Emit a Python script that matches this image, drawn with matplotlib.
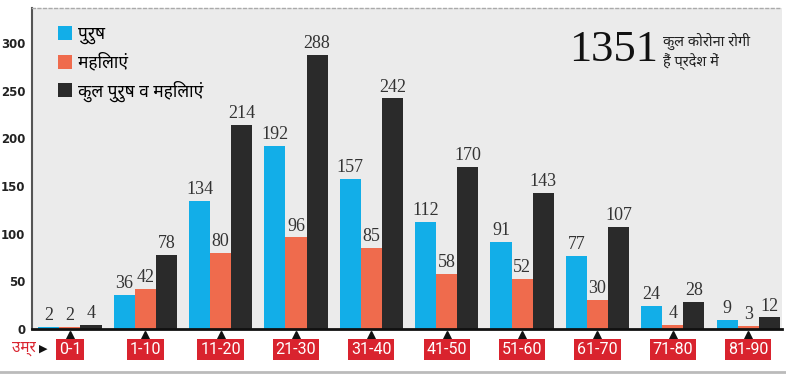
import matplotlib.pyplot as plt
from matplotlib.patches import Patch
import numpy as np

# age groups and counts
age_groups = ['0-1', '1-10', '11-20', '21-30', '31-40', '41-50', '51-60', '61-70', '71-80', '81-90']
men = [2, 36, 134, 192, 157, 112, 91, 77, 24, 9]
women = [2, 42, 80, 96, 85, 58, 52, 30, 4, 3]
total = [4, 78, 214, 288, 242, 170, 143, 107, 28, 12]
y_ticks = [0, 50, 100, 150, 200, 250, 300]

series_names = ['पुरुष', 'महिलाएं', 'कुल पुरुष व महिलाएं']
COLORS = ['#12aee8', '#ef6b4d', '#2a2a2a']
RED = '#d9232e'

HINDI = ['Noto Sans Devanagari', 'Lohit Devanagari', 'FreeSans', 'Noto Sans', 'DejaVu Sans']
SERIF = ['Liberation Serif', 'DejaVu Serif']

fig = plt.figure(figsize=(7.86, 3.78), dpi=100)
ax = fig.add_axes([0.041, 0.130, 0.954, 0.849])
ax.set_facecolor('#ebebeb')

x = np.arange(len(age_groups))
w = 0.28
for i, (vals, col) in enumerate(zip([men, women, total], COLORS)):
    xs = x + (i - 1) * w
    ax.bar(xs, vals, width=w, color=col, label=series_names[i], zorder=2)
    for xi, v in zip(xs, vals):
        ax.text(xi, v + 3, str(v), ha='center', va='bottom', fontsize=13,
                family=SERIF, color='#333333', zorder=3)

ax.set_xlim(-0.5, 9.45)
ax.set_ylim(0, 337)
ax.set_yticks(y_ticks)
ax.set_yticklabels([str(t) for t in y_ticks], fontsize=8.5, fontweight='bold', color='#222222')
ax.tick_params(axis='y', length=0, pad=5)
ax.set_xticks([])

ax.spines['left'].set_color('#555555')
ax.spines['left'].set_linewidth(1.5)
ax.spines['bottom'].set_color('#111111')
ax.spines['bottom'].set_linewidth(2)
ax.spines['right'].set_visible(False)
ax.spines['top'].set_color('#aaaaaa')
ax.spines['top'].set_linestyle((0, (2, 2)))
ax.spines['top'].set_linewidth(1)

# age group labels in red boxes with small triangles
trans = ax.get_xaxis_transform()
for xi, lab in zip(x, age_groups):
    ax.plot(xi, -0.022, marker='^', color='#111111', markersize=7,
            transform=trans, clip_on=False)
    ax.text(xi, -0.064, lab, transform=trans, ha='center', va='center',
            fontsize=11.5, color='white', family=['Roboto', 'DejaVu Sans'],
            bbox=dict(boxstyle='square,pad=0.18', facecolor=RED, edgecolor='none'))
fig.text(0.015, 0.077, 'उम्र', ha='left', va='center', fontsize=11,
         color=RED, fontweight='bold', family=HINDI)
fig.text(0.050, 0.077, '▶', ha='left', va='center', fontsize=8,
         color='#111111', family=['DejaVu Sans'])

# legend
handles = [Patch(facecolor=c, edgecolor='none') for c in COLORS]
ax.legend(handles, series_names, loc='upper left', bbox_to_anchor=(0.013, 0.995),
          frameon=False, handlelength=0.85, handleheight=0.85, handletextpad=0.35,
          labelspacing=0.5, prop={'family': HINDI, 'size': 12.5, 'weight': 'bold'})

# big total note
fig.text(0.724, 0.868, '1351', ha='left', va='center', fontsize=32,
         family=SERIF, color='#111111')
fig.text(0.843, 0.862, 'कुल कोरोना रोगी\nहैं प्रदेश में', ha='left', va='center',
         fontsize=10.5, family=HINDI, color='#222222', linespacing=1.3)

# bottom rule
fig.add_artist(plt.Line2D([0, 1], [0.016, 0.016], color='#bbbbbb', linewidth=2))

fig.savefig('out.png', dpi=100)
